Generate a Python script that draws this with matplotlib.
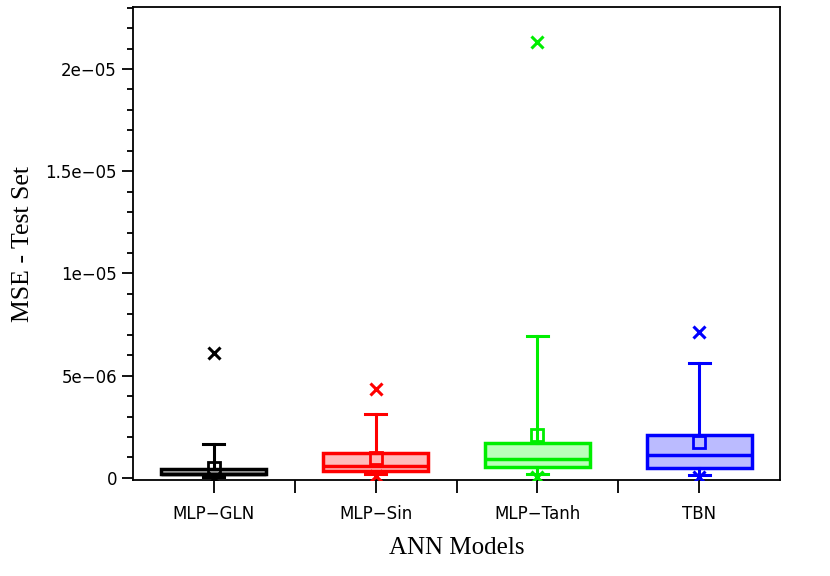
import matplotlib
matplotlib.use('Agg')
import matplotlib.pyplot as plt
from matplotlib.ticker import MultipleLocator, FuncFormatter

models = ['MLP\u2212GLN', 'MLP\u2212Sin', 'MLP\u2212Tanh', 'TBN']
colors = ['black', 'red', '#00ee00', 'blue']
fills = ['#bbbbbb', '#ffbbbb', '#bbffbb', '#bbbbff']

# box statistics (MSE values)
q1 = [0.20e-6, 0.34e-6, 0.54e-6, 0.49e-6]
med = [0.20e-6, 0.59e-6, 0.93e-6, 1.12e-6]
q3 = [0.44e-6, 1.22e-6, 1.71e-6, 2.10e-6]
whis_lo = [0.05e-6, 0.20e-6, 0.20e-6, 0.15e-6]
whis_hi = [1.66e-6, 3.13e-6, 6.94e-6, 5.62e-6]
means = [0.50e-6, 0.98e-6, 2.10e-6, 1.76e-6]
maxs = [6.10e-6, 4.35e-6, 2.13e-5, 7.14e-6]
mins = [0.0, 0.10e-6, 0.05e-6, 0.05e-6]

fig = plt.figure(figsize=(8.3, 5.76), dpi=100)
ax = fig.add_axes([0.1602, 0.1667, 0.7796, 0.8211])

for i in range(4):
    st = [dict(med=med[i], q1=q1[i], q3=q3[i], whislo=whis_lo[i],
               whishi=whis_hi[i], mean=means[i], fliers=[])]
    ax.bxp(st, positions=[i + 1], widths=0.65, patch_artist=True,
           showmeans=True, showfliers=False, capwidths=0.13,
           boxprops=dict(facecolor=fills[i], edgecolor=colors[i], linewidth=2.5),
           medianprops=dict(color=colors[i], linewidth=2.5),
           whiskerprops=dict(color=colors[i], linewidth=2.2),
           capprops=dict(color=colors[i], linewidth=2.2),
           meanprops=dict(marker='s', markerfacecolor='none', markeredgecolor=colors[i],
                          markeredgewidth=2, markersize=8))
    ax.plot([i + 1], [maxs[i]], marker='x', color=colors[i], markersize=9,
            markeredgewidth=2.2, linestyle='none', zorder=5)
    ax.plot([i + 1], [mins[i]], marker='x', color=colors[i], markersize=9,
            markeredgewidth=2.2, linestyle='none', zorder=5)

ax.set_xlim(0.5, 4.5)
ax.set_ylim(-1e-7, 2.303e-5)
ax.set_xticks([1, 2, 3, 4])
ax.set_xticklabels(models, fontsize=12)
ax.set_xticks([1.5, 2.5, 3.5], minor=True)
ax.tick_params(axis='x', which='both', length=9, width=1.3, direction='out')
ax.yaxis.set_major_locator(MultipleLocator(5e-6))
ax.yaxis.set_minor_locator(MultipleLocator(1e-6))


def fmt(v, pos):
    if abs(v) < 1e-12:
        return '0'
    return ('%g' % v).replace('-', '\u2212')


ax.yaxis.set_major_formatter(FuncFormatter(fmt))
ax.tick_params(axis='y', which='major', length=8, width=1.3, labelsize=12)
ax.tick_params(axis='y', which='minor', length=4.5, width=1.3)
ax.tick_params(axis='x', pad=9)
for s in ax.spines.values():
    s.set_linewidth(1.3)

ax.set_xlabel('ANN Models', fontsize=18, family='Liberation Serif', labelpad=10)
ax.set_ylabel('MSE - Test Set', fontsize=18.5, family='Liberation Serif', labelpad=8)

fig.savefig('out.png', dpi=100)
